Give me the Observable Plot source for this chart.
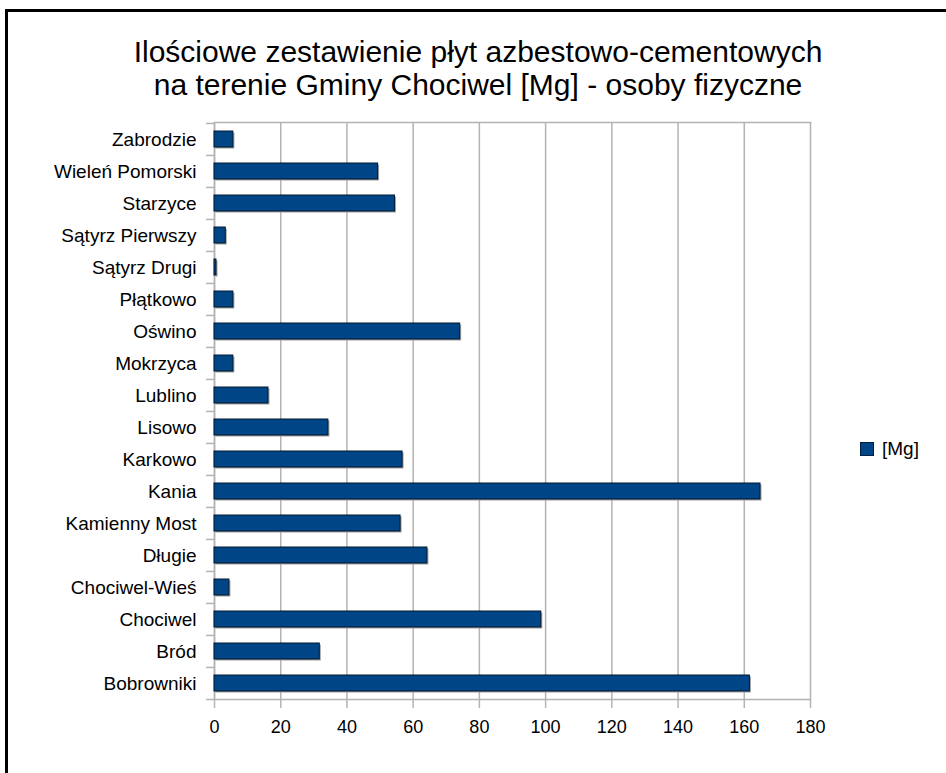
<!DOCTYPE html>
<html>
<head>
<meta charset="utf-8">
<script src="https://cdn.jsdelivr.net/npm/d3@7"></script>
<script src="https://cdn.jsdelivr.net/npm/@observablehq/plot@0.6"></script>
<style>
  html, body { margin: 0; padding: 0; background: #fff; }
  body { width: 946px; height: 773px; position: relative; overflow: hidden; font-family: "Liberation Sans", Arial, sans-serif; }
  #frame { position: absolute; left: 5px; top: 9px; width: 960px; height: 800px; border-top: 3px solid #000; border-left: 3px solid #000; box-sizing: border-box; }
  #title { position: absolute; left: 0; width: 956px; top: 35px; text-align: center; font-size: 30px; line-height: 33px; color: #000; }
  #chart { position: absolute; left: 0; top: 0; }
  #legend { position: absolute; left: 860px; top: 438px; font-size: 19px; color: #000; display: flex; align-items: center; }
  #legend .sw { width: 12px; height: 12px; background: #004586; border: 1px solid #00203f; margin-right: 8px; }
</style>
</head>
<body>
<div id="frame"></div>
<div id="title">Ilościowe zestawienie płyt azbestowo-cementowych<br>na terenie Gminy Chociwel [Mg] - osoby fizyczne</div>
<div id="chart"></div>
<div id="legend"><div class="sw"></div><span>[Mg]</span></div>
<script>
const categories = [
  "Zabrodzie", "Wieleń Pomorski", "Starzyce", "Sątyrz Pierwszy", "Sątyrz Drugi",
  "Płątkowo", "Oświno", "Mokrzyca", "Lublino", "Lisowo", "Karkowo", "Kania",
  "Kamienny Most", "Długie", "Chociwel-Wieś", "Chociwel", "Bród", "Bobrowniki"
];
const values = [
  5.7, 49.4, 54.5, 3.4, 0.6,
  5.7, 74.2, 5.7, 16.3, 34.4, 56.8, 164.9,
  56.2, 64.3, 4.5, 98.7, 31.8, 161.7
];
const xTicks = [0, 20, 40, 60, 80, 100, 120, 140, 160, 180];
const seriesName = "[Mg]";

const data = categories.map((c, i) => ({category: c, value: values[i]}));

const W = 946, H = 773;
const mTop = 122, mBottom = 73, mLeft = 214, mRight = 136;
const step = (H - mTop - mBottom) / categories.length;
const grid = "#b3b3b3";

const chart = Plot.plot({
  width: W,
  height: H,
  marginTop: mTop,
  marginBottom: mBottom,
  marginLeft: mLeft,
  marginRight: mRight,
  style: {fontFamily: "'Liberation Sans', Arial, sans-serif", background: "transparent", overflow: "visible"},
  x: {domain: [0, 180], ticks: xTicks},
  y: {domain: categories, paddingInner: 0.5, paddingOuter: 0.25},
  marks: [
    Plot.ruleX(xTicks, {stroke: grid, strokeWidth: 1.5}),
    Plot.axisX({ticks: xTicks, tickSize: 8, stroke: grid, strokeWidth: 1.5, tickPadding: 12, fontSize: 18, fill: "#000", label: null}),
    Plot.frame({anchor: "top", stroke: grid, strokeWidth: 1.5}),
    Plot.ruleY([categories[categories.length - 1]], {x1: -2.4, x2: 180, dy: step / 2, stroke: grid, strokeWidth: 1.5}),
    Plot.ruleY(categories, {x1: -2.4, x2: 0, dy: -step / 2, stroke: grid, strokeWidth: 1.5}),
    Plot.ruleX([0], {stroke: grid, strokeWidth: 1.5}),
    Plot.barX(data, {y: "category", x: "value", fill: "#a0a0a0", dx: 1.5, dy: 1.5}),
    Plot.barX(data, {y: "category", x: "value", fill: "#004586", stroke: "#001a33", strokeWidth: 1}),
    Plot.axisY({tickSize: 0, tickPadding: 18, fontSize: 19, fill: "#000", label: null})
  ]
});
document.getElementById("chart").appendChild(chart);
</script>
</body>
</html>
